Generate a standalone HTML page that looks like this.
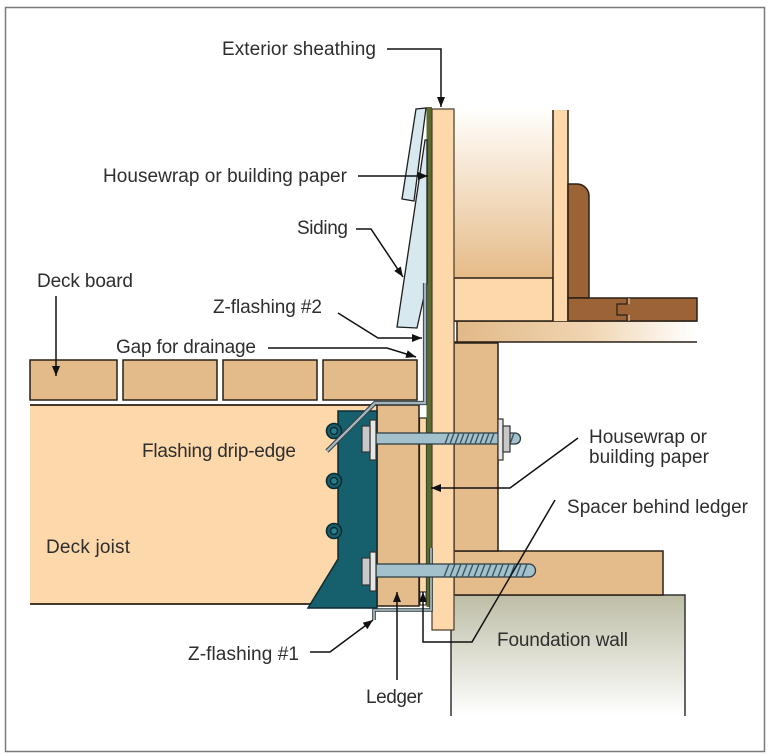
<!DOCTYPE html>
<html><head><meta charset="utf-8"><style>
html,body{margin:0;padding:0;background:#fff;}
svg{display:block;}
text{font-family:"Liberation Sans",Arial,sans-serif;font-size:19px;fill:#2e2e2e;}
</style></head><body>
<svg width="768" height="755" viewBox="0 0 768 755" xmlns="http://www.w3.org/2000/svg">
<defs>
<linearGradient id="cav" x1="0" y1="0" x2="0" y2="1"><stop offset="0" stop-color="#fffefb"/><stop offset="1" stop-color="#e6bb88"/></linearGradient>
<linearGradient id="sub" x1="0" y1="0" x2="1" y2="0"><stop offset="0" stop-color="#e2b987"/><stop offset="0.55" stop-color="#f0d5b2"/><stop offset="1" stop-color="#ffffff"/></linearGradient>
<linearGradient id="fnd" x1="0" y1="0" x2="0" y2="1"><stop offset="0" stop-color="#bdbda6"/><stop offset="1" stop-color="#ffffff"/></linearGradient>
<marker id="ar" markerUnits="userSpaceOnUse" markerWidth="11" markerHeight="8" refX="10" refY="4" orient="auto"><path d="M0,0 L10,4 L0,8 z" fill="#111"/></marker>
</defs>
<rect x="0" y="0" width="768" height="755" fill="#fff"/>
<rect x="5.5" y="7.5" width="759" height="744" fill="none" stroke="#7a7a7a" stroke-width="1.5"/>

<!-- foundation -->
<rect x="451" y="595" width="234" height="121" fill="url(#fnd)"/>
<path d="M451,716 V595 H685 V716" fill="none" stroke="#333" stroke-width="1.5"/>
<!-- sill plate -->
<rect x="454" y="551" width="209" height="44" fill="#e4bc8b" stroke="#2a2016" stroke-width="1.5"/>
<!-- rim joist -->
<rect x="454" y="343" width="44" height="208" fill="#e4bc8b" stroke="#2a2016" stroke-width="1.5"/>
<!-- subfloor -->
<rect x="457" y="321" width="240" height="21" fill="url(#sub)"/>
<path d="M454,321 H697 M457,321 V342 M454,342 H697" fill="none" stroke="#2a2016" stroke-width="1.5"/>
<!-- wall cavity -->
<rect x="454" y="110" width="99" height="168" fill="url(#cav)"/>
<!-- bottom plate -->
<rect x="454" y="278" width="99" height="43" fill="#fcd8ab" stroke="#2a2016" stroke-width="1.5"/>
<!-- stud -->
<rect x="553" y="110" width="15" height="211" fill="#fcd8ab"/>
<path d="M553,110 V321 M568,110 V321" stroke="#2a2016" stroke-width="1.5"/>
<!-- baseboard -->
<path d="M568,298 V184 H577 A12,12 0 0 1 589,196 V298 Z" fill="#9c6337" stroke="#2a2016" stroke-width="1.5"/>
<!-- floor -->
<rect x="568" y="298" width="129" height="23" fill="#9c6337" stroke="#2a2016" stroke-width="1.5"/>
<path d="M627,298 V304 H617 V315 H627 V321" fill="none" stroke="#2a2016" stroke-width="1.2"/>
<path d="M629,298 V304 M629,315 V321" fill="none" stroke="#e8d0b0" stroke-width="1"/>

<!-- deck joist -->
<rect x="30" y="405" width="347" height="199" fill="#fcd8ab"/>
<path d="M30,405 H377 M30,604 H312" stroke="#2a2016" stroke-width="1.8"/>
<!-- deck boards -->
<rect x="30" y="360" width="87" height="40" fill="#e3bb8a" stroke="#2a2016" stroke-width="1.5"/>
<rect x="123" y="360" width="94" height="40" fill="#e3bb8a" stroke="#2a2016" stroke-width="1.5"/>
<rect x="223" y="360" width="94" height="40" fill="#e3bb8a" stroke="#2a2016" stroke-width="1.5"/>
<rect x="323" y="360" width="94" height="40" fill="#e3bb8a" stroke="#2a2016" stroke-width="1.5"/>

<!-- ledger -->
<rect x="377" y="405" width="42" height="201" fill="#e4bc8b" stroke="#2a2016" stroke-width="1.5"/>
<!-- spacer -->
<rect x="419.5" y="418" width="7" height="174" fill="#fcd8ab" stroke="#2a2016" stroke-width="1.2"/>
<!-- housewrap green -->
<rect x="426.5" y="107" width="5.5" height="500" fill="#5b6a30"/>
<!-- sheathing -->
<rect x="432" y="109" width="22" height="521" fill="#fcd8ab" stroke="#4a3a2a" stroke-width="1.2"/>

<!-- siding -->
<polygon points="425,140 427,140 427,283 417,328 397,327" fill="#d7e9ef" stroke="#1e1e1e" stroke-width="1.3"/>
<polygon points="416,109 426,108 414,201 402,199" fill="#d7e9ef" stroke="#1e1e1e" stroke-width="1.3"/>

<!-- Z-flashing #2 and drip edge -->
<path d="M425,283 V403 H375 L327,451" fill="none" stroke="#2c3a3e" stroke-width="4.2"/>
<path d="M425,283 V403 H375 L327,451" fill="none" stroke="#a4b4ba" stroke-width="2.4"/>

<!-- joist hanger -->
<path d="M338,411 H377 V608 H308 L338,559 Z" fill="#165f6d" stroke="#0f2b31" stroke-width="1.5"/>
<g fill="#165f6d" stroke="#0f2b31" stroke-width="1.6">
<circle cx="334" cy="431" r="7.5"/><circle cx="334" cy="481" r="7.5"/><circle cx="334" cy="531" r="7.5"/>
</g>
<g fill="#2a7f8f" stroke="#0f2b31" stroke-width="1.4">
<circle cx="334" cy="431" r="3.5"/><circle cx="334" cy="481" r="3.5"/><circle cx="334" cy="531" r="3.5"/>
</g>
<!-- redraw drip edge over hanger -->
<path d="M375,403 L327,451" fill="none" stroke="#2c3a3e" stroke-width="4.2"/>
<path d="M375,403 L327,451" fill="none" stroke="#a4b4ba" stroke-width="2.4"/>

<!-- Z-flashing #1 -->
<path d="M374,620 V610 H431 V548" fill="none" stroke="#2c3a3e" stroke-width="3.6"/>
<path d="M374,620 V610 H431 V548" fill="none" stroke="#a4b4ba" stroke-width="1.8"/>
<!-- white gaps at spacer -->
<rect x="420" y="592" width="6" height="13" fill="#fff" stroke="#2a2016" stroke-width="1"/>

<!-- upper bolt -->
<path d="M376,433 H515 A5.5,5.5 0 0 1 515,444 H376 Z" fill="#a3c1cc" stroke="#2a3a40" stroke-width="1.3"/>
<g stroke="#3b5560" stroke-width="1.4">
<path d="M445,444 L449,433 M450,444 L454,433 M455,444 L459,433 M460,444 L464,433 M465,444 L469,433 M470,444 L474,433 M475,444 L479,433 M480,444 L484,433 M485,444 L489,433 M490,444 L494,433 M505,444 L509,433 M510,444 L514,433"/>
</g>
<rect x="498" y="419" width="5" height="41" fill="#e6e6e6" stroke="#333" stroke-width="1.2"/>
<rect x="503" y="426" width="7" height="26" fill="#c8c8c8" stroke="#333" stroke-width="1.2"/>
<rect x="370" y="420" width="6" height="40" fill="#e6e6e6" stroke="#333" stroke-width="1.2"/>
<rect x="362" y="426" width="8" height="26" fill="#c8c8c8" stroke="#333" stroke-width="1.2"/>

<!-- lower bolt -->
<path d="M376,564 H529 A6.5,6.5 0 0 1 529,577 H376 Z" fill="#a3c1cc" stroke="#2a3a40" stroke-width="1.3"/>
<g stroke="#3b5560" stroke-width="1.4">
<path d="M444,577 L449,564 M450,577 L455,564 M456,577 L461,564 M462,577 L467,564 M468,577 L473,564 M474,577 L479,564 M480,577 L485,564 M486,577 L491,564 M492,577 L497,564 M498,577 L503,564 M504,577 L509,564 M510,577 L515,564 M516,577 L521,564 M522,577 L527,564"/>
</g>
<rect x="370" y="552" width="6" height="39" fill="#e6e6e6" stroke="#333" stroke-width="1.2"/>
<rect x="362" y="558" width="8" height="27" fill="#c8c8c8" stroke="#333" stroke-width="1.2"/>

<!-- leaders -->
<g fill="none" stroke="#111" stroke-width="1.5">
<path d="M387,49 H441 V107" marker-end="url(#ar)"/>
<path d="M358,176 H428" marker-end="url(#ar)"/>
<path d="M356,229 H371 L403,277" marker-end="url(#ar)"/>
<path d="M56,296 V376" marker-end="url(#ar)"/>
<path d="M338,313 L378,338 H422" marker-end="url(#ar)"/>
<path d="M268,348 H387 L416,357" marker-end="url(#ar)"/>
<path d="M578,438 L510,488 H431" marker-end="url(#ar)"/>
<path d="M555,500 L472,642 H423 V592" marker-end="url(#ar)"/>
<path d="M397,680 V592" marker-end="url(#ar)"/>
<path d="M310,652 H330 L373,620" marker-end="url(#ar)"/>
</g>

<!-- labels -->
<text x="222" y="55" textLength="154" lengthAdjust="spacing">Exterior sheathing</text>
<text x="103" y="182" textLength="244" lengthAdjust="spacing">Housewrap or building paper</text>
<text x="297" y="234" textLength="51" lengthAdjust="spacing">Siding</text>
<text x="37" y="287" textLength="96" lengthAdjust="spacing">Deck board</text>
<text x="213" y="313" textLength="109" lengthAdjust="spacing">Z-flashing #2</text>
<text x="116" y="353" textLength="140" lengthAdjust="spacing">Gap for drainage</text>
<text x="142" y="457" textLength="154" lengthAdjust="spacing">Flashing drip-edge</text>
<text x="46" y="553" textLength="84" lengthAdjust="spacing">Deck joist</text>
<text x="188" y="660" textLength="111" lengthAdjust="spacing">Z-flashing #1</text>
<text x="366" y="703" textLength="57" lengthAdjust="spacing">Ledger</text>
<text x="497" y="646" textLength="131" lengthAdjust="spacing">Foundation wall</text>
<text x="589" y="443" textLength="118" lengthAdjust="spacing">Housewrap or</text>
<text x="589" y="463" textLength="120" lengthAdjust="spacing">building paper</text>
<text x="567" y="513" textLength="181" lengthAdjust="spacing">Spacer behind ledger</text>
</svg>
</body></html>
